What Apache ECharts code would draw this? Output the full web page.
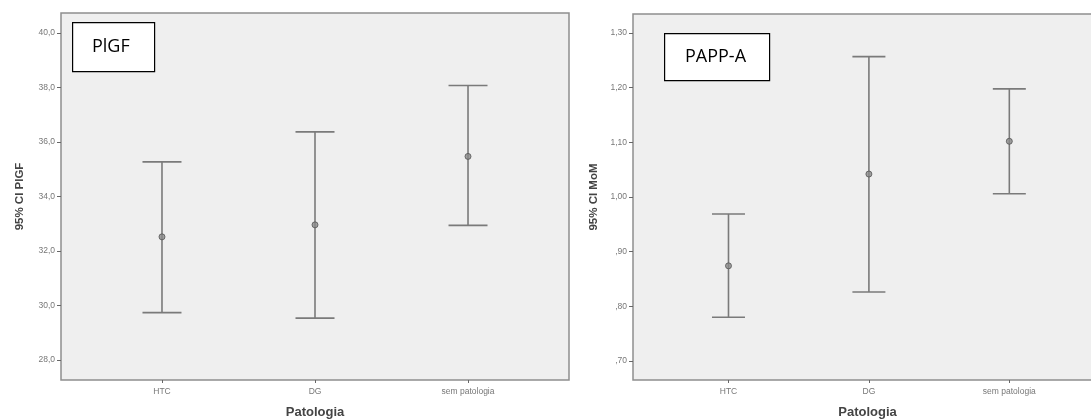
<!DOCTYPE html>
<html>
<head>
<meta charset="utf-8">
<script src="https://cdn.jsdelivr.net/npm/echarts@6/dist/echarts.min.js"></script>
<style>
html,body{margin:0;padding:0;background:#fff;}
#chart{width:1091px;height:419px;}
</style>
</head>
<body>
<div id="chart"></div>
<script>
// ---- data ----
var categories = ['HTC', 'DG', 'sem patologia'];
var plgfMean  = [32.52, 32.96, 35.47];
var plgfLower = [29.74, 29.54, 32.94];
var plgfUpper = [35.27, 36.37, 38.07];
var pappMean  = [0.874, 1.042, 1.102];
var pappLower = [0.780, 0.826, 1.006];
var pappUpper = [0.969, 1.257, 1.198];
var plgfTicks = [28, 30, 32, 34, 36, 38, 40];
var pappTicks = [0.70, 0.80, 0.90, 1.00, 1.10, 1.20, 1.30];
var catIdx = [0, 1, 2];

function fmtPlgf(v){ return v.toFixed(1).replace('.', ','); }
function fmtPapp(v){ var s = v.toFixed(2).replace('.', ','); if (s.charAt(0) === '0') s = s.slice(1); return s; }

function barData(lo, hi){ return catIdx.map(function(i){ return [i, lo[i], hi[i]]; }); }
function meanData(m){ return catIdx.map(function(i){ return [i, m[i]]; }); }

function errRender(halfW){
  return function(params, api){
    var x = api.value(0);
    var a = api.coord([x, api.value(1)]);
    var b = api.coord([x, api.value(2)]);
    var st = {stroke:'#7a7a7a', lineWidth:1.6};
    return {type:'group', children:[
      {type:'line', shape:{x1:a[0], y1:a[1], x2:b[0], y2:b[1]}, style:st},
      {type:'line', shape:{x1:a[0]-halfW, y1:a[1], x2:a[0]+halfW, y2:a[1]}, style:st},
      {type:'line', shape:{x1:b[0]-halfW, y1:b[1], x2:b[0]+halfW, y2:b[1]}, style:st}
    ]};
  };
}

var tickLabelStyle = {fontFamily:'Liberation Sans', fontSize:8.5, color:'#777'};
function xAxisCfg(gi, mn){
  return {
    gridIndex: gi, type:'value', min:mn, max:2.66,
    name:'Patologia', nameLocation:'middle', nameGap:26,
    nameTextStyle:{fontFamily:'Liberation Sans', fontSize:13, fontWeight:'bold', color:'#444'},
    axisLine:{show:false, onZero:false},
    axisTick:{show:true, length:3, customValues:catIdx, lineStyle:{color:'#666'}},
    axisLabel:Object.assign({customValues:catIdx, margin:7, formatter:function(v){ return categories[Math.round(v)]; }}, tickLabelStyle),
    splitLine:{show:false}
  };
}
function yAxisCfg(gi, mn, mx, nm, gap, ticks, fmt){
  return {gridIndex:gi, type:'value', min:mn, max:mx,
     name:nm, nameLocation:'middle', nameGap:gap,
     nameTextStyle:{fontFamily:'Liberation Sans', fontSize:11.5, fontWeight:'bold', color:'#444'},
     axisLine:{show:false, onZero:false},
     axisTick:{show:true, length:4, customValues:ticks, lineStyle:{color:'#666'}},
     axisLabel:Object.assign({customValues:ticks, margin:6, formatter:fmt}, tickLabelStyle),
     splitLine:{show:false}};
}

var chart = echarts.init(document.getElementById('chart'));
chart.setOption({
  animation:false,
  backgroundColor:'#ffffff',
  grid:[
    {left:61, top:13, width:508, height:367, show:true, outerBoundsMode:'none', containLabel:false, backgroundColor:'#efefef', borderColor:'#8f8f8f', borderWidth:1.5},
    {left:633, top:14, width:469, height:366, show:true, outerBoundsMode:'none', containLabel:false, backgroundColor:'#efefef', borderColor:'#8f8f8f', borderWidth:1.5}
  ],
  xAxis:[ xAxisCfg(0, -0.66), xAxisCfg(1, -0.68) ],
  yAxis:[
    yAxisCfg(0, 27.27, 40.73, '95% CI PlGF', 35, plgfTicks, fmtPlgf),
    yAxisCfg(1, 0.665, 1.335, '95% CI MoM', 33, pappTicks, fmtPapp)
  ],
  series:[
    {type:'custom', xAxisIndex:0, yAxisIndex:0, renderItem:errRender(19.5), data:barData(plgfLower, plgfUpper), silent:true},
    {type:'scatter', xAxisIndex:0, yAxisIndex:0, data:meanData(plgfMean), symbol:'circle', symbolSize:6,
     itemStyle:{color:'#8a8a8a', borderColor:'#555', borderWidth:1}, silent:true},
    {type:'custom', xAxisIndex:1, yAxisIndex:1, renderItem:errRender(16.5), data:barData(pappLower, pappUpper), silent:true},
    {type:'scatter', xAxisIndex:1, yAxisIndex:1, data:meanData(pappMean), symbol:'circle', symbolSize:6,
     itemStyle:{color:'#8a8a8a', borderColor:'#555', borderWidth:1}, silent:true}
  ],
  graphic:[
    {type:'rect', left:72, top:22, shape:{width:82, height:49}, style:{fill:'#fff', stroke:'#000', lineWidth:1.2}, z:10},
    {type:'text', x:92, y:47, style:{text:'PlGF', font:'18px "Open Sans", "Noto Sans", sans-serif', fill:'#000', align:'left', verticalAlign:'middle'}, z:11},
    {type:'rect', left:664, top:33, shape:{width:105, height:47}, style:{fill:'#fff', stroke:'#000', lineWidth:1.2}, z:10},
    {type:'text', x:685, y:57, style:{text:'PAPP-A', font:'18px "Open Sans", "Noto Sans", sans-serif', fill:'#000', align:'left', verticalAlign:'middle'}, z:11}
  ]
});
</script>
</body>
</html>
